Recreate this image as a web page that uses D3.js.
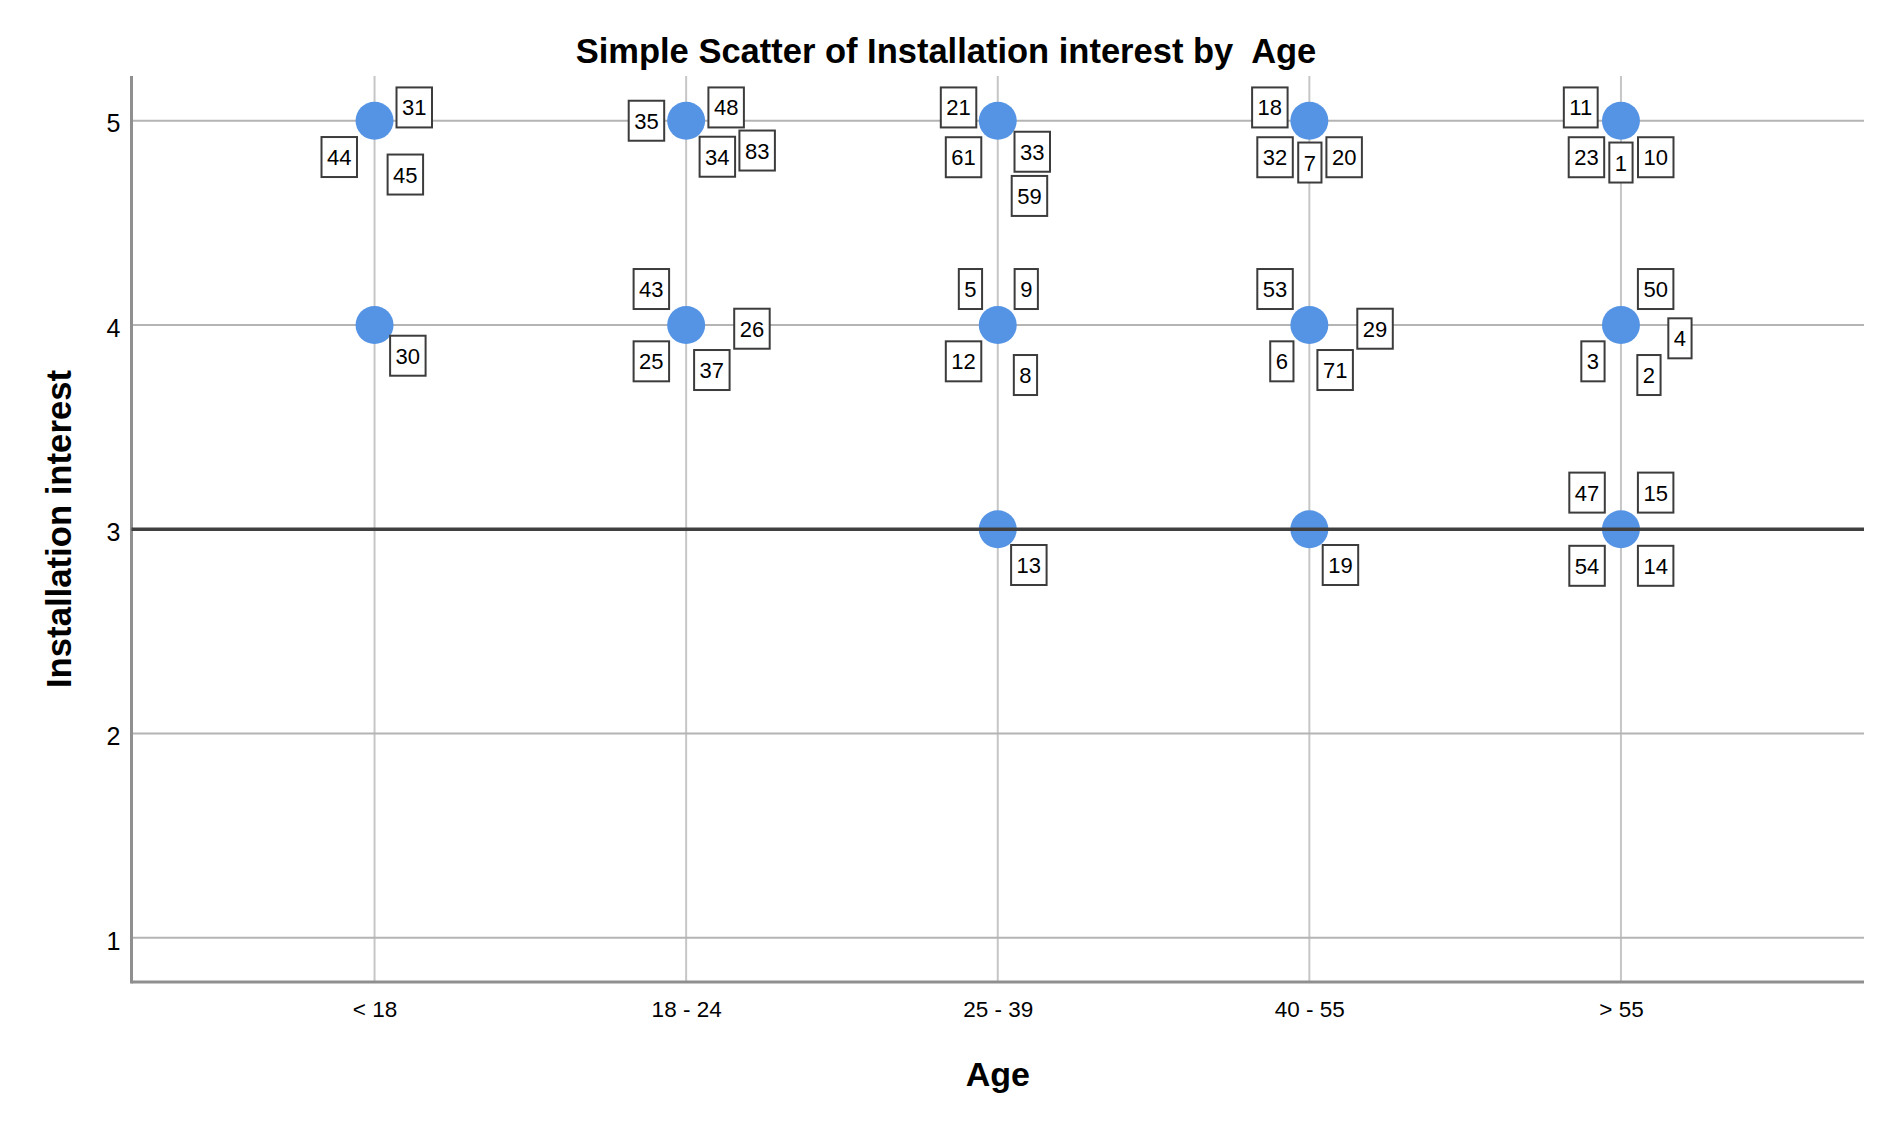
<!DOCTYPE html>
<html>
<head>
<meta charset="utf-8">
<script src="https://cdn.jsdelivr.net/npm/d3@7"></script>
<style>
  html, body { margin: 0; padding: 0; background: #fff; }
  svg { display: block; }
  text { font-family: "Liberation Sans", Arial, sans-serif; fill: #000; }
</style>
</head>
<body>
<svg id="chart" width="1892" height="1128"></svg>
<script>
// ---------- data ----------
const title = "Simple Scatter of Installation interest by\u00a0 Age";
const xTitle = "Age";
const yTitle = "Installation interest";
const ageCategories = ["< 18", "18 - 24", "25 - 39", "40 - 55", "> 55"];
const yTickValues = [1, 2, 3, 4, 5];
const referenceValue = 3;

const caseIds = [31, 44, 45, 30, 35, 48, 34, 83, 43, 26, 25, 37,
                 21, 61, 33, 59, 5, 9, 12, 8, 13,
                 18, 32, 7, 20, 53, 29, 6, 71, 19,
                 11, 23, 1, 10, 50, 4, 3, 2, 47, 15, 54, 14];
const caseAge = ["< 18", "< 18", "< 18", "< 18",
                 "18 - 24", "18 - 24", "18 - 24", "18 - 24", "18 - 24", "18 - 24", "18 - 24", "18 - 24",
                 "25 - 39", "25 - 39", "25 - 39", "25 - 39", "25 - 39", "25 - 39", "25 - 39", "25 - 39", "25 - 39",
                 "40 - 55", "40 - 55", "40 - 55", "40 - 55", "40 - 55", "40 - 55", "40 - 55", "40 - 55", "40 - 55",
                 "> 55", "> 55", "> 55", "> 55", "> 55", "> 55", "> 55", "> 55", "> 55", "> 55", "> 55", "> 55"];
const caseInterest = [5, 5, 5, 4,
                      5, 5, 5, 5, 4, 4, 4, 4,
                      5, 5, 5, 5, 4, 4, 4, 4, 3,
                      5, 5, 5, 5, 4, 4, 4, 4, 3,
                      5, 5, 5, 5, 4, 4, 4, 4, 3, 3, 3, 3];

// ---------- layout (label box offsets from the marker, in px) ----------
const labelOffsets = [[39.7,-13.3],[-35.3,36.3],[30.8,53.8],[33.3,30.7],
  [-39.7,0],[40,-13.3],[31.2,36],[71,29.8],[-34.8,-36],[65.8,3.7],[-34.8,36.3],[25.7,45],
  [-39.2,-13.3],[-34.2,36.5],[34.5,31],[31.7,75.2],[-27.3,-36],[28.5,-36],[-34.2,36.3],[27.7,50],[31.1,35.7],
  [-39.5,-13.3],[-34.3,36.5],[0.5,41.8],[34.8,36.5],[-34.3,-36],[65.7,3.7],[-27.5,36.3],[25.8,45],[31.1,35.7],
  [-40.2,-13.3],[-34.5,36.5],[0,41.8],[34.8,36.5],[34.7,-36],[59,13.3],[-28,36.3],[28,50],
  [-33.9,-36.7],[34.7,-36.7],[-33.9,36.5],[34.7,36.5]];

const plot = { left: 131.5, right: 1864, top: 76, bottom: 982 };

const svg = d3.select("#chart");

const x = d3.scalePoint().domain(ageCategories).range([plot.left, plot.right]).padding(0.78);
const y = d3.scaleLinear().domain([0.784, 5.219]).range([plot.bottom, plot.top]);

// gridlines
const grid = svg.append("g");
grid.selectAll("line.v").data(ageCategories).join("line")
  .attr("x1", d => x(d)).attr("x2", d => x(d))
  .attr("y1", plot.top).attr("y2", plot.bottom)
  .attr("stroke", "#c6c6c6").attr("stroke-width", 2);
grid.selectAll("line.h").data(yTickValues.filter(v => v !== referenceValue)).join("line")
  .attr("x1", plot.left).attr("x2", plot.right)
  .attr("y1", d => y(d)).attr("y2", d => y(d))
  .attr("stroke", "#b4b4b4").attr("stroke-width", 2);

// axes
const yAxis = d3.axisLeft(y).tickValues(yTickValues).tickSize(0).tickPadding(11).tickFormat(d3.format("d"));
const gy = svg.append("g").attr("transform", `translate(${plot.left},0)`).call(yAxis);
gy.select(".domain").remove();
gy.selectAll("text").attr("font-size", 25).attr("font-family", "Liberation Sans, Arial, sans-serif")
  .attr("dy", "0.45em").attr("fill", "#000");

const xAxis = d3.axisBottom(x).tickSize(0).tickPadding(19);
const gx = svg.append("g").attr("transform", `translate(0,${plot.bottom})`).call(xAxis);
gx.select(".domain").remove();
gx.selectAll("text").attr("font-size", 22.5).attr("font-family", "Liberation Sans, Arial, sans-serif")
  .attr("fill", "#000");

svg.append("line").attr("x1", plot.left).attr("x2", plot.left)
  .attr("y1", plot.top).attr("y2", plot.bottom + 1.5)
  .attr("stroke", "#8f8f8f").attr("stroke-width", 3);
svg.append("line").attr("x1", plot.left).attr("x2", plot.right)
  .attr("y1", plot.bottom).attr("y2", plot.bottom)
  .attr("stroke", "#8f8f8f").attr("stroke-width", 3);

// points
const cases = caseIds.map((id, i) => ({ id, age: caseAge[i], v: caseInterest[i], off: labelOffsets[i] }));
const uniquePts = d3.groups(cases, d => d.age + "|" + d.v).map(g => g[1][0]);
svg.append("g").selectAll("circle").data(uniquePts).join("circle")
  .attr("cx", d => x(d.age)).attr("cy", d => y(d.v)).attr("r", 19)
  .attr("fill", "#5594e4");

// reference line
svg.append("line").attr("x1", plot.left).attr("x2", plot.right)
  .attr("y1", y(referenceValue)).attr("y2", y(referenceValue))
  .attr("stroke", "#404040").attr("stroke-width", 3.5);

// case labels
const lg = svg.append("g");
cases.forEach(d => {
  const cx = x(d.age) + d.off[0];
  const cy = y(d.v) + d.off[1];
  const g = lg.append("g");
  const t = g.append("text").attr("x", cx).attr("y", cy + 8)
    .attr("text-anchor", "middle").attr("font-size", 22).text(d.id);
  const w = t.node().getComputedTextLength() + 11;
  g.insert("rect", "text").attr("x", cx - w / 2).attr("y", cy - 20)
    .attr("width", w).attr("height", 40)
    .attr("fill", "#fff").attr("stroke", "#3c3c3c").attr("stroke-width", 2);
});

// titles
svg.append("text").attr("x", 946).attr("y", 63).attr("text-anchor", "middle")
  .attr("font-size", 34.5).attr("font-weight", "bold").text(title);
svg.append("text").attr("x", (plot.left + plot.right) / 2).attr("y", 1086).attr("text-anchor", "middle")
  .attr("font-size", 34).attr("font-weight", "bold").text(xTitle);
svg.append("text").attr("transform", `translate(71,${(plot.top + plot.bottom) / 2}) rotate(-90)`)
  .attr("text-anchor", "middle").attr("font-size", 34.7).attr("font-weight", "bold").text(yTitle);
</script>
</body>
</html>
